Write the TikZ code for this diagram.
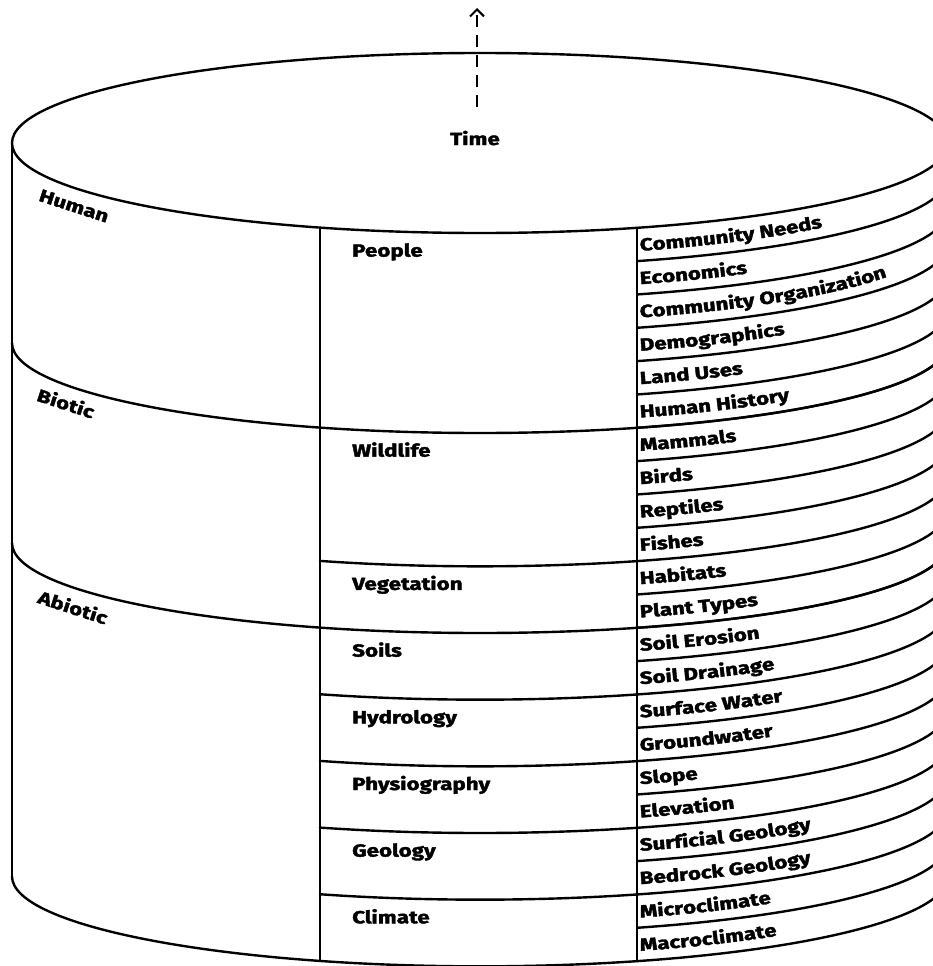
\documentclass[tikz,border=0pt]{standalone}
\usepackage{fontspec}
\newfontfamily\hv{Fira Sans}[FakeStretch=1.28,BoldFeatures={FakeBold=2.2}]
\usetikzlibrary{arrows.meta,decorations.text}

% one row of the outer column: label set along the curved rim below it
\newcommand\rowtext[2]{%
  \path[decorate,decoration={text along path,
      text={|\hv\bfseries\fontsize{17.5}{17.5}\selectfont|#2},
      raise=10pt,text align={left indent=4pt}}]
    (480,-143-33.3333*#1) ++(289.6:468 and 90)
    arc[start angle=289.6,end angle=360,x radius=468,y radius=90];}

\tikzset{
  rim/.style={line width=2.4pt,line cap=round},
  lbl/.style={font=\hv\bfseries\fontsize{17.5}{17.5}\selectfont,inner sep=0pt},
  axis/.style={line width=2pt,dash pattern=on 12pt off 8pt,
    -{Straight Barb[length=7pt,width=14pt,line width=2pt]}}
}

\begin{document}
\begin{tikzpicture}[x=1pt,y=1pt]
\useasboundingbox (0,0) rectangle (933,-966);
\clip (0,0) rectangle (933,-966);

% top face and left side of the cylinder
\draw[rim] (480,-143) ellipse[x radius=468,y radius=90];
\draw[rim] (12,-143) -- (12,-876);

% layer boundaries (Human / Biotic / Abiotic) and the base
\foreach \k in {6,12,22}
  \draw[rim] (12,-143-33.3333*\k)
    arc[start angle=180,end angle=360,x radius=468,y radius=90];

% column dividers
\path (480,-143) ++(250:468 and 90) coordinate (c2top);
\path (c2top) ++(0,-733.333) coordinate (c2bot);
\path (480,-143) ++(289.6:468 and 90) coordinate (c3top);
\path (c3top) ++(0,-733.333) coordinate (c3bot);
\draw[rim] (c2top) -- (c2bot);
\draw[rim] (c3top) -- (c3bot);

% group boundaries in the middle column
\foreach \k in {10,14,16,18,20}
  \draw[rim] (480,-143-33.3333*\k) ++(250:468 and 90)
    arc[start angle=250,end angle=289.6,x radius=468,y radius=90];

% row boundaries in the outer column
\foreach \k in {1,...,21}
  \draw[rim] (480,-143-33.3333*\k) ++(289.6:468 and 90)
    arc[start angle=289.6,end angle=360,x radius=468,y radius=90];

% time axis
\coordinate (tbot) at (477,-107);
\coordinate (ttop) at (477,-8);
\draw[axis] (tbot) -- (ttop);
\node[lbl,anchor=base] (time) at (475,-145) {Time};

% layer names
\node[lbl,rotate=-18] (human) at (74,-206) {Human};
\node[lbl,rotate=-18] (biotic) at (66,-403) {Biotic};
\node[lbl,rotate=-18] (abiotic) at (73,-607) {Abiotic};

% groups
\node[lbl,anchor=base west] (people) at (352,-256.6) {People};
\node[lbl,anchor=base west] (wildlife) at (352,-456.6) {Wildlife};
\node[lbl,anchor=base west] (vegetation) at (352,-589.9) {Vegetation};
\node[lbl,anchor=base west] (soils) at (352,-656.6) {Soils};
\node[lbl,anchor=base west] (hydrology) at (352,-723.3) {Hydrology};
\node[lbl,anchor=base west] (physiography) at (352,-790) {Physiography};
\node[lbl,anchor=base west] (geology) at (352,-856.6) {Geology};
\node[lbl,anchor=base west] (climate) at (352,-923.3) {Climate};

% factors
\rowtext{1}{Community Needs}
\rowtext{2}{Economics}
\rowtext{3}{Community Organization}
\rowtext{4}{Demographics}
\rowtext{5}{Land Uses}
\rowtext{6}{Human History}
\rowtext{7}{Mammals}
\rowtext{8}{Birds}
\rowtext{9}{Reptiles}
\rowtext{10}{Fishes}
\rowtext{11}{Habitats}
\rowtext{12}{Plant Types}
\rowtext{13}{Soil Erosion}
\rowtext{14}{Soil Drainage}
\rowtext{15}{Surface Water}
\rowtext{16}{Groundwater}
\rowtext{17}{Slope}
\rowtext{18}{Elevation}
\rowtext{19}{Surficial Geology}
\rowtext{20}{Bedrock Geology}
\rowtext{21}{Microclimate}
\rowtext{22}{Macroclimate}
\end{tikzpicture}
\end{document}
